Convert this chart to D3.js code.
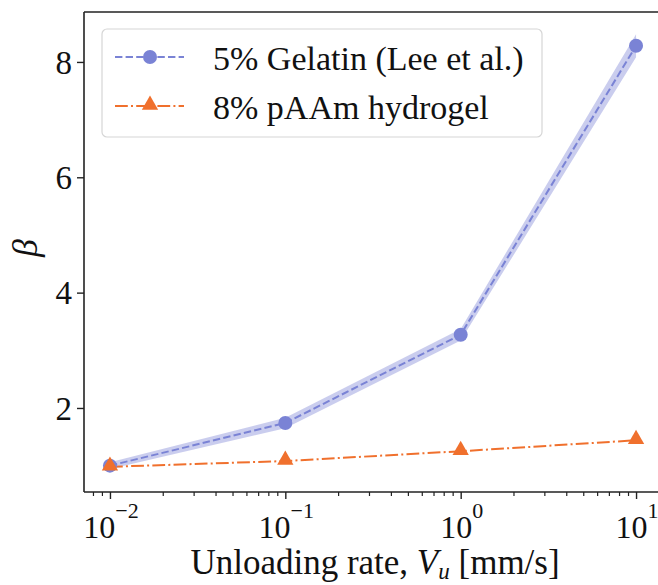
<!DOCTYPE html>
<html>
<head>
<meta charset="utf-8">
<script src="https://cdn.jsdelivr.net/npm/d3@7/dist/d3.min.js"></script>
<style>
  html, body { margin: 0; padding: 0; background: #fff; }
  svg { display: block; }
  svg text { font-family: "Liberation Serif", "Times New Roman", Times, serif; fill: #111; }
</style>
</head>
<body>
<svg id="chart" width="658" height="585"></svg>
<script>
// Unloading rates [mm/s]
const rates = [0.01, 0.1, 1, 10];
// 5% gelatin (Lee et al.): mean beta and shaded spread
const gelatin = [1.0, 1.74, 3.27, 8.28];
const gelatinLow = [0.94, 1.65, 3.17, 8.08];
const gelatinHigh = [1.06, 1.83, 3.37, 8.48];
// 8% pAAm hydrogel
const paam = [0.98, 1.08, 1.25, 1.44];

const yTicks = [2, 4, 6, 8];
const xTickExps = [-2, -1, 0, 1];
const seriesNames = ["5% Gelatin (Lee et al.)", "8% pAAm hydrogel"];

const blue = "#7a83d5";
const orange = "#f0702d";
const serif = "'Liberation Serif', 'Times New Roman', Times, serif";

const svg = d3.select("#chart");
const plotL = 84, plotR = 662, plotT = 12, plotB = 492;

const x = d3.scaleLog().domain([Math.pow(10, -2.148), Math.pow(10, 1.148)]).range([plotL, plotR]);
const y = d3.scaleLinear().domain([0.543, 8.866]).range([plotB, plotT]);

// shaded spread around the gelatin curve
const band = d3.area()
  .x((d, i) => x(rates[i]))
  .y0((d, i) => y(gelatinLow[i]))
  .y1((d, i) => y(gelatinHigh[i]));
svg.append("path")
  .attr("d", band(gelatin))
  .attr("fill", blue)
  .attr("fill-opacity", 0.4);

const line = d3.line().x((d, i) => x(rates[i])).y(d => y(d));

// pAAm line (dash-dot)
svg.append("path")
  .attr("d", line(paam))
  .attr("fill", "none")
  .attr("stroke", orange)
  .attr("stroke-width", 2)
  .attr("stroke-dasharray", "12.8,3.2,2,3.2");

// gelatin line (dashed)
svg.append("path")
  .attr("d", line(gelatin))
  .attr("fill", "none")
  .attr("stroke", blue)
  .attr("stroke-width", 2)
  .attr("stroke-dasharray", "7.4,3.2");

const tri = d3.symbol().type(d3.symbolTriangle).size(115);

svg.selectAll(".pt-g").data(gelatin).enter().append("circle")
  .attr("cx", (d, i) => x(rates[i])).attr("cy", d => y(d))
  .attr("r", 7).attr("fill", blue);

svg.selectAll(".pt-p").data(paam).enter().append("path")
  .attr("d", tri)
  .attr("transform", (d, i) => `translate(${x(rates[i])},${y(d) - 1})`)
  .attr("fill", orange);

// spines
const spine = svg.append("g").attr("stroke", "#222").attr("stroke-width", 1.6).attr("fill", "none");
spine.append("line").attr("x1", plotL).attr("x2", plotL).attr("y1", plotT).attr("y2", plotB);
spine.append("line").attr("x1", plotL).attr("x2", plotR).attr("y1", plotT).attr("y2", plotT);
spine.append("line").attr("x1", plotL).attr("x2", plotR).attr("y1", plotB).attr("y2", plotB);
spine.append("line").attr("x1", plotR).attr("x2", plotR).attr("y1", plotT).attr("y2", plotB);

// y axis
const yAxis = d3.axisLeft(y).tickValues(yTicks).tickSize(7).tickPadding(5).tickFormat(d3.format("d"));
const gy = svg.append("g").attr("transform", `translate(${plotL},0)`).call(yAxis)
  .attr("font-family", serif);
gy.select(".domain").remove();
gy.selectAll(".tick line").attr("stroke", "#222").attr("stroke-width", 1.4);
gy.selectAll(".tick text").attr("font-size", 33).attr("dy", "0.34em");

// x axis: major ticks with power-of-ten labels, minor ticks between
const majors = xTickExps.map(e => Math.pow(10, e));
const minors = [];
[-3, -2, -1, 0, 1].forEach(e => {
  for (let k = 2; k <= 9; k++) {
    const v = k * Math.pow(10, e);
    if (v >= x.domain()[0] && v <= x.domain()[1]) minors.push(v);
  }
});
const gx = svg.append("g").attr("transform", `translate(0,${plotB})`);
gx.call(d3.axisBottom(x).tickValues(minors).tickSize(4).tickFormat(""));
gx.select(".domain").remove();
gx.selectAll(".tick line").attr("stroke", "#222").attr("stroke-width", 1.2);
const gxM = svg.append("g").attr("transform", `translate(0,${plotB})`);
gxM.call(d3.axisBottom(x).tickValues(majors).tickSize(7).tickFormat(""));
gxM.select(".domain").remove();
gxM.selectAll(".tick line").attr("stroke", "#222").attr("stroke-width", 1.4);

xTickExps.forEach(e => {
  const t = svg.append("text")
    .attr("x", x(Math.pow(10, e)) + 1)
    .attr("y", 538)
    .attr("text-anchor", "middle")
    .attr("font-size", 32);
  t.append("tspan").text("10");
  t.append("tspan").attr("dy", -20).attr("font-size", 22).text(e < 0 ? "\u2212" + (-e) : String(e));
});

// axis titles
const xl = svg.append("text")
  .attr("x", 375).attr("y", 574)
  .attr("text-anchor", "middle")
  .attr("font-size", 35);
xl.append("tspan").text("Unloading rate, ");
xl.append("tspan").attr("font-style", "italic").text("V");
xl.append("tspan").attr("font-style", "italic").attr("font-size", 23).attr("dy", 5).text("u");
xl.append("tspan").attr("dy", -5).text(" [mm/s]");

svg.append("text")
  .attr("transform", "translate(37,248) rotate(-90)")
  .attr("text-anchor", "middle")
  .attr("font-size", 36)
  .attr("font-style", "italic")
  .text("\u03b2");

// legend
const lg = svg.append("g");
lg.append("rect")
  .attr("x", 102).attr("y", 29).attr("width", 440).attr("height", 108)
  .attr("rx", 5).attr("fill", "#fff").attr("fill-opacity", 0.85)
  .attr("stroke", "#d6d6d6").attr("stroke-width", 1.2);

const rows = [
  { name: seriesNames[0], color: blue, dash: "7.4,3.2", marker: "circle", y: 57 },
  { name: seriesNames[1], color: orange, dash: "12.8,3.2,2,3.2", marker: "tri", y: 106 }
];
rows.forEach(r => {
  lg.append("line")
    .attr("x1", 115).attr("x2", 184).attr("y1", r.y).attr("y2", r.y)
    .attr("stroke", r.color).attr("stroke-width", 2).attr("stroke-dasharray", r.dash);
  if (r.marker === "circle") {
    lg.append("circle").attr("cx", 150).attr("cy", r.y).attr("r", 7).attr("fill", r.color);
  } else {
    lg.append("path").attr("d", tri).attr("transform", `translate(150,${r.y - 1})`).attr("fill", r.color);
  }
  lg.append("text")
    .attr("x", 213).attr("y", r.y + 13)
    .attr("font-size", 34)
    .text(r.name);
});
</script>
</body>
</html>
